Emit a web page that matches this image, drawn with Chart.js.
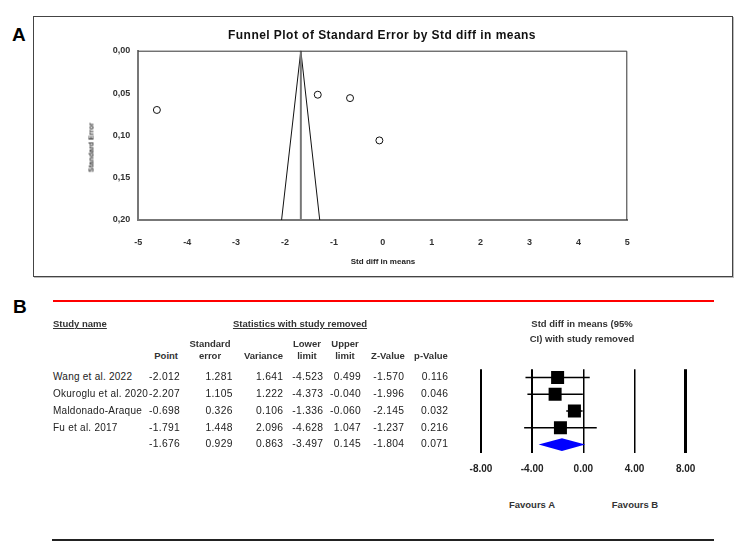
<!DOCTYPE html>
<html>
<head>
<meta charset="utf-8">
<script src="https://cdn.jsdelivr.net/npm/chart.js@4.4.1/dist/chart.umd.min.js"></script>
<style>
  body { margin: 0; background: #fff; }
  #page { position: relative; width: 740px; height: 547px; overflow: hidden; font-family: "Liberation Sans", Arial, sans-serif; color: #222; }
  .t { position: absolute; white-space: nowrap; }
  canvas { position: absolute; }
</style>
</head>
<body>
<div id="page">
  <div style="position:absolute;left:33px;top:16px;width:698px;height:259px;border:1px solid #444;box-shadow:1px 1px 0 #bbb;"></div>
  <canvas id="funnel" width="699" height="260" style="left:33px;top:16px;"></canvas>
  <div style="position:absolute;left:53px;top:300px;width:661px;height:2px;background:#f00;"></div>
  <div style="position:absolute;left:52px;top:539px;width:662px;height:1.5px;background:#222;"></div>
  <canvas id="forest" width="290" height="120" style="left:440px;top:360px;"></canvas>
</div>
<script>
// funnel plot (panel A)
const funnelEffect = [-4.62, -1.33, -0.67, -0.07];
const funnelSE = [0.070, 0.052, 0.056, 0.106];
const funnelApex = -1.676;
const funnelBase = [-2.07, -1.29];   // funnel edges at SE 0.20
const funnelDiamondSE = 0.207;

// study removed table (panel B), last row is the overall line
const studyNames = ["Wang et al. 2022", "Okuroglu et al. 2020", "Maldonado-Araque", "Fu et al. 2017", ""];
const pointEst = [-2.012, -2.207, -0.698, -1.791, -1.676];
const stdError = [1.281, 1.105, 0.326, 1.448, 0.929];
const varianceVals = [1.641, 1.222, 0.106, 2.096, 0.863];
const lowerLimit = [-4.523, -4.373, -1.336, -4.628, -3.497];
const upperLimit = [0.499, -0.040, -0.060, 1.047, 0.145];
const zValues = [-1.570, -1.996, -2.145, -1.237, -1.804];
const pValues = [0.116, 0.046, 0.032, 0.216, 0.071];
const forestTicks = [-8, -4, 0, 4, 8];

const page = document.getElementById("page");

function label(text, x, y, align, size, weight, extra) {
    const d = document.createElement("div");
    d.className = "t";
    d.textContent = text;
    d.style.fontSize = size + "px";
    d.style.lineHeight = size + "px";
    d.style.fontWeight = weight || "normal";
    d.style.top = (y - size / 2) + "px";
    if (align === "left") {
        d.style.left = x + "px";
    } else if (align === "right") {
        d.style.left = (x - 300) + "px";
        d.style.width = "300px";
        d.style.textAlign = "right";
    } else {
        d.style.left = (x - 200) + "px";
        d.style.width = "400px";
        d.style.textAlign = "center";
    }
    if (extra) Object.assign(d.style, extra);
    page.appendChild(d);
    return d;
}

// panel letters and titles
label("A", 12, 34, "left", 19, "bold", { color: "#000" });
label("B", 13, 306.5, "left", 19, "bold", { color: "#000" });
label("Funnel Plot of Standard Error by Std diff in means", 382, 34.5, "center", 12, "bold", { letterSpacing: "0.45px", color: "#111" });
label("Std diff in means", 383, 262, "center", 8, "bold", { color: "#222" });
const se = label("Standard Error", 91, 147, "center", 7, "bold", { color: "#333" });
se.style.transform = "rotate(-90deg)";

// table headers
const ul = { textDecoration: "underline", color: "#333" };
label("Study name", 53, 324, "left", 9.5, "bold", ul);
label("Statistics with study removed", 300, 324, "center", 9.5, "bold", ul);
const hd = { color: "#333" };
label("Point", 178, 356, "right", 9.5, "bold", hd);
label("Standard", 210, 344, "center", 9.5, "bold", hd);
label("error", 210, 356, "center", 9.5, "bold", hd);
label("Variance", 283, 356, "right", 9.5, "bold", hd);
label("Lower", 307, 344, "center", 9.5, "bold", hd);
label("limit", 307, 356, "center", 9.5, "bold", hd);
label("Upper", 345, 344, "center", 9.5, "bold", hd);
label("limit", 345, 356, "center", 9.5, "bold", hd);
label("Z-Value", 388, 356, "center", 9.5, "bold", hd);
label("p-Value", 431, 356, "center", 9.5, "bold", hd);
label("Std diff in means (95%", 582, 324, "center", 9.5, "bold", hd);
label("CI) with study removed", 582, 339, "center", 9.5, "bold", hd);
label("Favours A", 532, 505, "center", 9.5, "bold", hd);
label("Favours B", 635, 505, "center", 9.5, "bold", hd);

// table rows
const rowY = [377.3, 394, 411, 428, 444.5];
const cols = [
    [pointEst, 180], [stdError, 232.7], [varianceVals, 283.3], [lowerLimit, 323.3],
    [upperLimit, 361], [zValues, 404.3], [pValues, 448.3],
];
studyNames.forEach((name, i) => {
    label(name, 53, rowY[i], "left", 10, "normal", { letterSpacing: "0.25px" });
    cols.forEach(([arr, x]) => label(arr[i].toFixed(3), x, rowY[i], "right", 10.3, "normal", { letterSpacing: "0.3px" }));
});

// panel A chart
const frameA = {
    id: "frameA",
    afterDraw(chart) {
        const { ctx, chartArea: a } = chart;
        ctx.save();
        ctx.strokeStyle = "#333";
        ctx.lineWidth = 1;
        ctx.beginPath();
        ctx.moveTo(a.left, a.top + 0.5);
        ctx.lineTo(a.right - 0.5, a.top + 0.5);
        ctx.lineTo(a.right - 0.5, a.bottom);
        ctx.stroke();
        ctx.restore();
    },
};

new Chart(document.getElementById("funnel"), {
    type: "scatter",
    data: {
        datasets: [
            {
                data: funnelEffect.map((x, i) => ({ x: x, y: funnelSE[i] })),
                pointStyle: "circle",
                pointRadius: 3.5,
                backgroundColor: "#fff",
                borderColor: "#111",
                borderWidth: 1,
                order: 0,
            },
            {
                data: [{ x: funnelApex, y: funnelDiamondSE }],
                pointStyle: "rectRot",
                pointRadius: 3.5,
                backgroundColor: "#fff",
                borderColor: "#111",
                borderWidth: 1,
                clip: false,
                order: 0,
            },
            {
                data: [{ x: funnelBase[0], y: 0.2 }, { x: funnelApex, y: 0 }, { x: funnelBase[1], y: 0.2 }],
                showLine: true,
                pointRadius: 0,
                borderColor: "#111",
                borderWidth: 1,
                order: 2,
            },
            {
                data: [{ x: funnelApex, y: 0 }, { x: funnelApex, y: 0.2 }],
                showLine: true,
                pointRadius: 0,
                borderColor: "#777",
                borderWidth: 2,
                order: 1,
            },
        ],
    },
    options: {
        responsive: false,
        animation: false,
        layout: { padding: { left: 0, top: 34.7, right: 104.7, bottom: 0 } },
        plugins: { legend: { display: false }, tooltip: { enabled: false } },
        scales: {
            x: {
                type: "linear",
                min: -5,
                max: 5,
                afterFit: (scale) => { scale.height = 56; },
                grid: { display: false, drawTicks: false },
                border: { display: true, color: "#777", width: 2 },
                ticks: {
                    stepSize: 1,
                    padding: 17,
                    color: "#333",
                    font: { size: 9, weight: "bold", family: "Liberation Sans" },
                },
            },
            y: {
                type: "linear",
                min: 0,
                max: 0.2,
                reverse: true,
                afterFit: (scale) => { scale.width = 105.3; },
                grid: { display: false, drawTicks: false },
                border: { display: true, color: "#777", width: 2 },
                ticks: {
                    stepSize: 0.05,
                    padding: 8,
                    color: "#333",
                    font: { size: 9, weight: "bold", family: "Liberation Sans" },
                    callback: (v) => v.toFixed(2).replace(".", ","),
                },
            },
        },
    },
    plugins: [frameA],
});

// panel B forest plot
const nStudies = studyNames.length - 1;
const sum = nStudies;
const diamondHalf = 0.38;
const forestSets = [];
for (let i = 0; i < nStudies; i++) {
    forestSets.push({
        data: [{ x: lowerLimit[i], y: i + 1 }, { x: upperLimit[i], y: i + 1 }],
        showLine: true,
        pointRadius: 0,
        borderColor: "#000",
        borderWidth: 1.5,
        order: 1,
    });
}
forestSets.push({
    data: pointEst.slice(0, nStudies).map((x, i) => ({ x: x, y: i + 1 })),
    pointStyle: "rect",
    pointRadius: 9.2,
    backgroundColor: "#000",
    borderColor: "#000",
    borderWidth: 0,
    order: 0,
});
forestSets.push({
    data: [
        { x: lowerLimit[sum], y: sum + 1 },
        { x: pointEst[sum], y: sum + 1 - diamondHalf },
        { x: upperLimit[sum], y: sum + 1 },
        { x: pointEst[sum], y: sum + 1 + diamondHalf },
        { x: lowerLimit[sum], y: sum + 1 },
    ],
    showLine: true,
    fill: "shape",
    pointRadius: 0,
    borderWidth: 0,
    borderColor: "#0000ff",
    backgroundColor: "#0000ff",
    order: 0,
});

const gridWidths = [2, 2, 1.5, 1.5, 3];

new Chart(document.getElementById("forest"), {
    type: "scatter",
    data: { datasets: forestSets },
    options: {
        responsive: false,
        animation: false,
        layout: { padding: { left: 41, top: 9, right: 44.3, bottom: 0 } },
        plugins: { legend: { display: false }, tooltip: { enabled: false } },
        scales: {
            x: {
                type: "linear",
                min: forestTicks[0],
                max: forestTicks[forestTicks.length - 1],
                afterFit: (scale) => { scale.height = 27.1; },
                afterBuildTicks: (scale) => { scale.ticks = forestTicks.map((v) => ({ value: v })); },
                border: { display: false },
                grid: {
                    color: "#000",
                    drawTicks: false,
                    lineWidth: (ctx) => gridWidths[ctx.index] || 1.5,
                },
                ticks: {
                    padding: 10.5,
                    color: "#222",
                    font: { size: 10, weight: "bold", family: "Liberation Sans" },
                    callback: (v) => Number(v).toFixed(2),
                },
            },
            y: {
                type: "linear",
                display: false,
                min: 0.5,
                max: nStudies + 1.5,
                reverse: true,
            },
        },
    },
});
</script>
</body>
</html>
